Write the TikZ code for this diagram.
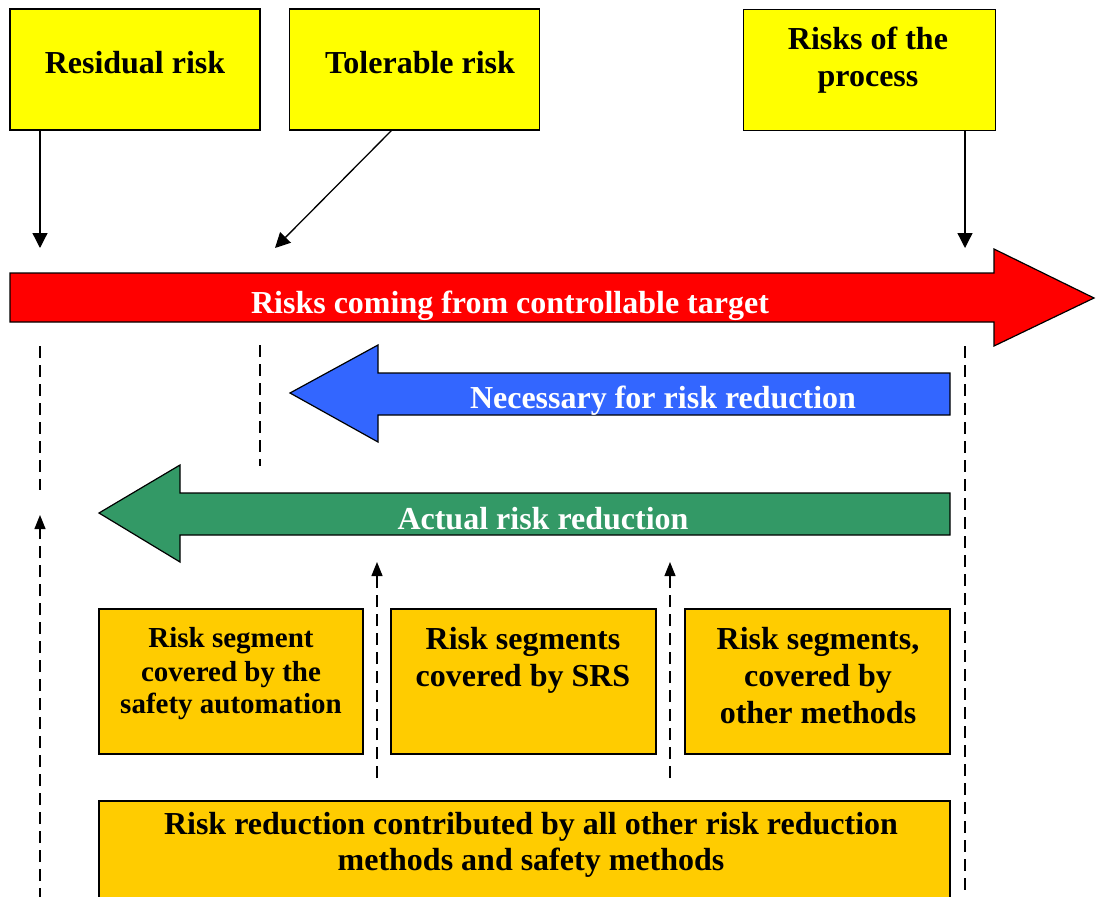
\documentclass[tikz,border=0pt]{standalone}
\usepackage{fontspec}
\setmainfont{Liberation Serif}
\usetikzlibrary{arrows.meta}
\definecolor{cyel}{HTML}{FFFF00}
\definecolor{corg}{HTML}{FFCC00}
\definecolor{cred}{HTML}{FF0000}
\definecolor{cblue}{HTML}{3366FF}
\definecolor{cgreen}{HTML}{339966}
\tikzset{
  ybox/.style={draw=black, line width=1.5pt, fill=cyel, inner sep=0pt, outer sep=0pt},
  obox/.style={draw=black, line width=1.8pt, fill=corg, inner sep=0pt, outer sep=0pt},
  txt/.style={anchor=base, inner sep=0pt, font=\fontsize{32}{37}\selectfont\bfseries},
  stxt/.style={anchor=base, inner sep=0pt, font=\fontsize{29}{33}\selectfont\bfseries},
  wtxt/.style={txt, text=white},
  blockarrow/.style={draw=black, line width=1.2pt},
  arr/.style={line width=1.3pt, -{Triangle[length=15pt,width=15pt]}},
  darr/.style={line width=1.2pt, dash pattern=on 12pt off 7pt, -{Triangle[length=14pt,width=11pt]}},
  dline/.style={line width=1.2pt, dash pattern=on 12pt off 7pt}
}
\begin{document}
\begin{tikzpicture}[x=1pt,y=-1pt]
\useasboundingbox (0,0) rectangle (1096,897);
\fill[white] (0,0) rectangle (1096,897);

% top boxes
\node[ybox, minimum width=250pt, minimum height=121pt] (res) at (135,69.5) {};
\node[ybox, minimum width=250pt, minimum height=121pt] (tol) at (414.5,69.5) {};
\node[ybox, line width=1pt, minimum width=252pt, minimum height=121pt] (proc) at (869,69.5) {};
\node[txt] (resT) at (135,73) {Residual risk};
\node[txt] (tolT) at (420,73) {Tolerable risk};
\node[txt] (procT1) at (868,49) {Risks of the};
\node[txt] (procT2) at (868,86) {process};

% red arrow
\path[blockarrow, fill=cred] (10,273) -- (994,273) -- (994,249) -- (1094,298) -- (994,346) -- (994,322) -- (10,322) -- cycle;
\node[wtxt] (redT) at (510,313) {Risks coming from controllable target};

% blue arrow
\path[blockarrow, fill=cblue] (950,373) -- (378,373) -- (378,345) -- (290,393) -- (378,442) -- (378,415) -- (950,415) -- cycle;
\node[wtxt] (blueT) at (663,408) {Necessary for risk reduction};

% green arrow
\path[blockarrow, fill=cgreen] (950,493) -- (180,493) -- (180,465) -- (99,513) -- (180,562) -- (180,535) -- (950,535) -- cycle;
\node[wtxt] (greenT) at (543,529) {Actual risk reduction};

% connector ends
\coordinate (resTip) at (40,248);
\coordinate (tolSrc) at (392,130);
\coordinate (tolTip) at (275,248);
\coordinate (procTip) at (965,248);
\draw[arr] (res.south -| resTip) -- (resTip);
\draw[arr] (tol.south -| tolSrc) -- (tolTip);
\draw[arr] (proc.south -| procTip) -- (procTip);

% dashed guide lines
\coordinate (d1a) at (40,346); \coordinate (d1b) at (40,490);
\coordinate (d2a) at (260,345); \coordinate (d2b) at (260,466);
\coordinate (d3a) at (965,346); \coordinate (d3b) at (965,900);
\draw[dline] (d1a) -- (d1b);
\draw[dline] (d2a) -- (d2b);
\draw[dline] (d3a) -- (d3b);
\coordinate (u1a) at (40,900); \coordinate (u1b) at (40,515);
\draw[darr] (u1a) -- (u1b);
\coordinate (u2a) at (377,778); \coordinate (u2b) at (377,562);
\coordinate (u3a) at (670,778); \coordinate (u3b) at (670,562);
\draw[darr] (u2a) -- (u2b);
\draw[darr] (u3a) -- (u3b);

% segment boxes
\node[obox, minimum width=264pt, minimum height=145pt] (seg1) at (231,681.5) {};
\node[obox, minimum width=265pt, minimum height=145pt] (seg2) at (523.5,681.5) {};
\node[obox, minimum width=265pt, minimum height=145pt] (seg3) at (817.5,681.5) {};
\node[stxt] (s1a) at (231,647) {Risk segment};
\node[stxt] (s1b) at (231,681) {covered by the};
\node[stxt] (s1c) at (231,713) {safety automation};
\node[txt] (s2a) at (523,649) {Risk segments};
\node[txt] (s2b) at (523,686) {covered by SRS};
\node[txt] (s3a) at (818,649) {Risk segments,};
\node[txt] (s3b) at (818,686) {covered by};
\node[txt] (s3c) at (818,723) {other methods};

% bottom box
\node[obox, minimum width=851pt, minimum height=120pt] (all) at (524.5,861) {};
\node[txt] (allA) at (531,834) {Risk reduction contributed by all other risk reduction};
\node[txt] (allB) at (531,870) {methods and safety methods};
\end{tikzpicture}
\end{document}
